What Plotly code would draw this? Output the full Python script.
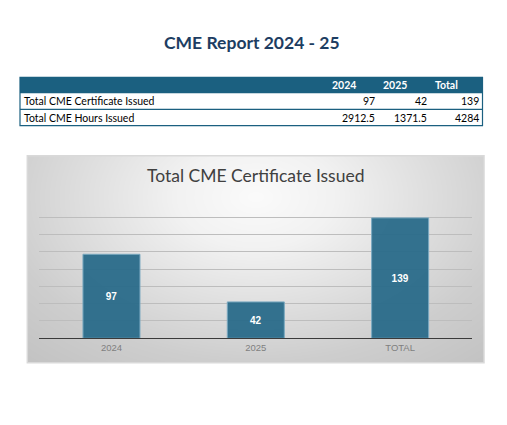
import base64
import struct
import zlib

import numpy as np
import plotly.graph_objects as go

# report data
report_title = 'CME Report 2024 - 25'
table_columns = ['2024', '2025', 'Total']
table_rows = ['Total CME Certificate Issued', 'Total CME Hours Issued']
certificates = ['97', '42', '139']
hours = ['2912.5', '1371.5', '4284']

chart_title = 'Total CME Certificate Issued'
bar_categories = ['2024', '2025', 'TOTAL']
bar_values = [97, 42, 139]

# the page body keeps its default 8px margin, so the figure starts at (8, 8)
OFF = 8
W, H = 507 - 2 * OFF, 425 - 2 * OFF


def px(x):
    return (x - OFF) / W


def py(y):
    return 1 - (y - OFF) / H


def gradient_png(w, h):
    # soft radial grey gradient, light near the top centre
    yy, xx = np.mgrid[0:h, 0:w]
    dx = (xx / (w - 1) - 0.5) / 0.7
    dy = (yy / (h - 1) - 0.2) / 1.0
    d = np.sqrt(dx ** 2 + dy ** 2)
    g = np.interp(d, [0, 0.25, 0.8, 1.2], [251, 242, 206, 190]).astype(np.uint8)
    raw = b''.join(b'\x00' + g[r].tobytes() for r in range(h))

    def chunk(tag, data):
        return (struct.pack('>I', len(data)) + tag + data
                + struct.pack('>I', zlib.crc32(tag + data) & 0xffffffff))

    png = b'\x89PNG\r\n\x1a\n'
    png += chunk(b'IHDR', struct.pack('>IIBBBBB', w, h, 8, 0, 0, 0, 0))
    png += chunk(b'IDAT', zlib.compress(raw, 9))
    png += chunk(b'IEND', b'')
    return 'data:image/png;base64,' + base64.b64encode(png).decode()


fig = go.Figure()

fig.add_trace(go.Bar(
    x=bar_categories,
    y=bar_values,
    text=bar_values,
    textposition='inside',
    insidetextanchor='middle',
    textfont=dict(family='Liberation Sans', size=10, color='white', weight='bold'),
    marker=dict(color='rgba(38,104,136,0.93)', line=dict(color='#7aa9c0', width=1)),
    hoverinfo='skip',
))

tcolor = '#1b6080'
shapes = []
annotations = []

# table
tx0, tx1 = 20, 482.5
ty = [77.3, 93.3, 109.3, 125.7]
shapes.append(dict(type='rect', xref='paper', yref='paper', x0=px(tx0), x1=px(tx1),
                   y0=py(ty[1]), y1=py(ty[0]), fillcolor=tcolor, line=dict(width=0)))
shapes.append(dict(type='rect', xref='paper', yref='paper', x0=px(tx0), x1=px(tx1),
                   y0=py(ty[3]), y1=py(ty[0]), line=dict(color=tcolor, width=1.2)))
shapes.append(dict(type='line', xref='paper', yref='paper', x0=px(tx0), x1=px(tx1),
                   y0=py(ty[2]), y1=py(ty[2]), line=dict(color=tcolor, width=1.2)))

head_left = [330, 381, 433]
val_right = [376.5, 429, 480.5]
tfont = dict(family='Lato', size=10.5, color='black')
for name, xl in zip(table_columns, head_left):
    annotations.append(dict(text=name, x=px(xl), y=py((ty[0] + ty[1]) / 2), xref='paper', yref='paper',
                            xanchor='left', yanchor='middle', showarrow=False,
                            font=dict(family='Lato', size=10.5, color='white', weight='bold')))
for i, (label, vals) in enumerate(zip(table_rows, [certificates, hours])):
    yc = py((ty[i + 1] + ty[i + 2]) / 2)
    annotations.append(dict(text=label, x=px(22), y=yc, xref='paper', yref='paper',
                            xanchor='left', yanchor='middle', showarrow=False, font=tfont))
    for v, xr in zip(vals, val_right):
        annotations.append(dict(text=v, x=px(xr), y=yc, xref='paper', yref='paper',
                                xanchor='right', yanchor='middle', showarrow=False, font=tfont))

# page title
annotations.append(dict(text='<b>' + report_title + '</b>', x=px(252), y=py(42.5), xref='paper', yref='paper',
                        xanchor='center', yanchor='middle', showarrow=False,
                        font=dict(family='Lato', size=17.5, color='#1d3d62')))

# chart box
cx0, cx1, cy0, cy1 = 27.3, 484, 155.7, 362.7
shapes.append(dict(type='rect', xref='paper', yref='paper', x0=px(cx0), x1=px(cx1),
                   y0=py(cy1), y1=py(cy0), line=dict(color='#d9d9d9', width=1.5), layer='below'))
annotations.append(dict(text=chart_title, x=px(255.5), y=py(175), xref='paper', yref='paper',
                        xanchor='center', yanchor='middle', showarrow=False,
                        font=dict(family='Lato', size=17.5, color='#404040')))

fig.update_layout(
    width=W, height=H,
    margin=dict(l=0, r=0, t=0, b=0),
    paper_bgcolor='white',
    plot_bgcolor='rgba(0,0,0,0)',
    showlegend=False,
    bargap=0.605,
    shapes=shapes,
    annotations=annotations,
    images=[dict(source=gradient_png(457, 207), xref='paper', yref='paper',
                 x=px(cx0), y=py(cy0), sizex=px(cx1) - px(cx0), sizey=py(cy0) - py(cy1),
                 xanchor='left', yanchor='top', sizing='stretch', layer='below')],
    xaxis=dict(domain=[px(39.3), px(472.3)], showgrid=False, showline=True,
               linecolor='#3a3a3a', linewidth=1, ticks='',
               tickfont=dict(family='Liberation Sans', size=9.5, color='#7f7f7f'), fixedrange=True),
    yaxis=dict(domain=[py(338.3), py(199.7)], range=[0, 160], dtick=20,
               showgrid=True, gridcolor='#bdbdbd', gridwidth=1, zeroline=False,
               showticklabels=False, fixedrange=True),
)

fig.write_html('out.html')
